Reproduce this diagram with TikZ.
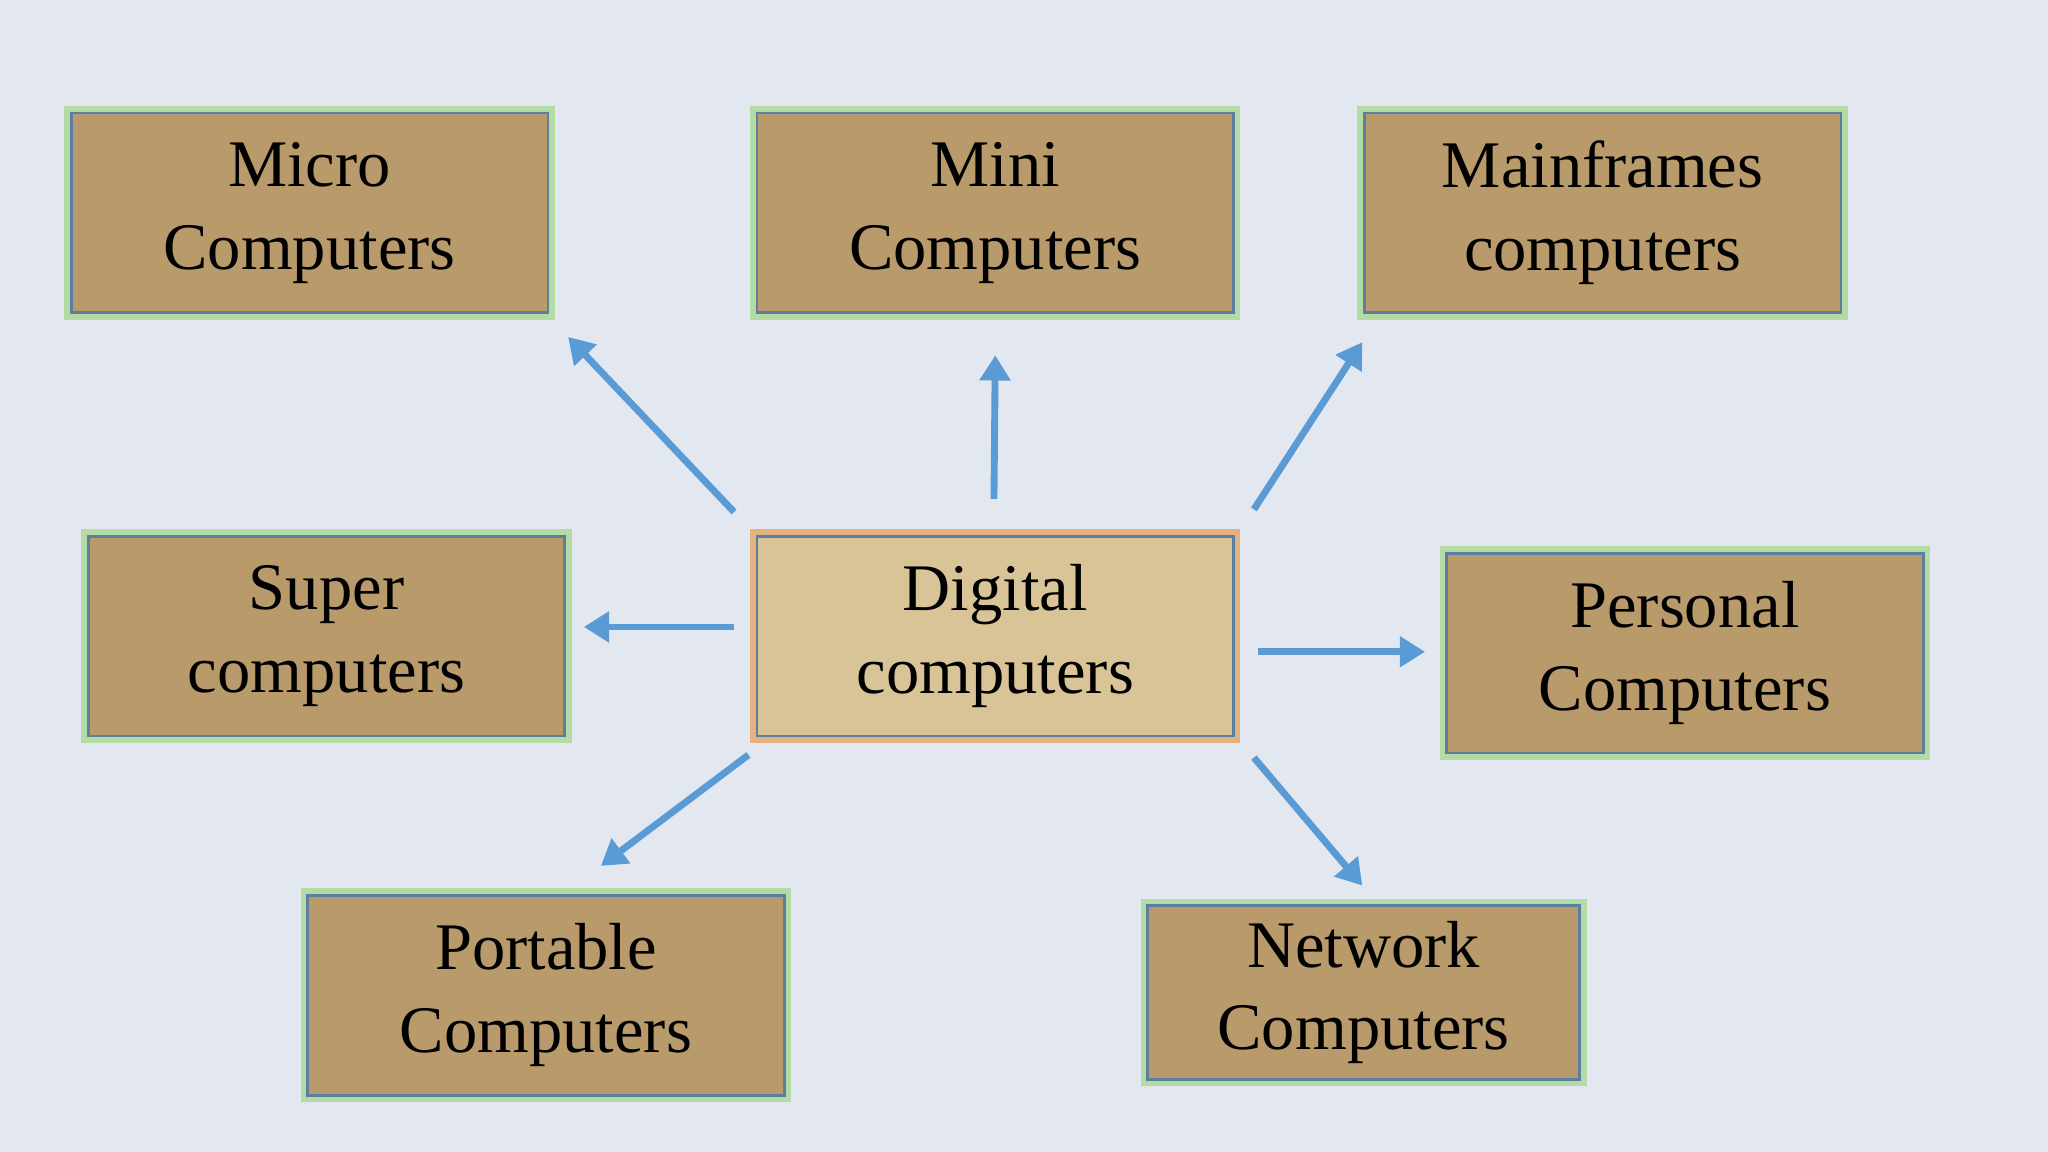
\documentclass[tikz,border=0pt]{standalone}
\usepackage{fontspec}
\setmainfont{Liberation Serif}
\usetikzlibrary{arrows.meta}
\definecolor{bg}{HTML}{E3E8F0}
\definecolor{tan}{HTML}{B99B6B}
\definecolor{lighttan}{HTML}{D8C496}
\definecolor{glowg}{HTML}{A8D890}
\definecolor{glowo}{HTML}{F0A878}
\definecolor{edge}{HTML}{5A7FA0}
\definecolor{arr}{HTML}{5B9BD5}
\tikzset{
 box/.style={draw=edge, line width=0.6pt, fill=tan, minimum width=7.3cm, minimum height=3.06cm,
   align=center, font=\fontsize{29}{36}\selectfont, text=black, inner sep=0pt,
   double=glowg, double distance=0pt,
   preaction={draw=glowg, line width=6pt, opacity=0.8}},
 cbox/.style={box, fill=lighttan, preaction={draw=glowo, line width=6pt, opacity=0.8}},
 arrow/.style={draw=arr, line width=3pt, -{Triangle[length=11pt,width=13pt]}}
}
\begin{document}
\begin{tikzpicture}[x=0.02cm,y=-0.02cm]
\fill[bg] (0,0) rectangle (1568,882);
\useasboundingbox (0,0) rectangle (1568,882);
\node[box] (micro) at (237,163) {Micro\\Computers};
\node[box] (mini) at (762,163) {Mini\\Computers};
\node[box] (main) at (1227,163) {Mainframes\\computers};
\node[box] (super) at (250,487) {Super\\computers};
\node[cbox] (dig) at (762,487) {Digital\\computers};
\node[box] (pers) at (1290,500) {Personal\\Computers};
\node[box] (port) at (418,762) {Portable\\Computers};
\node[box, minimum width=6.62cm, minimum height=2.66cm] (net) at (1044,760) {Network\\Computers};
\coordinate (a1s) at (562,392); \coordinate (a1e) at (435,258);
\coordinate (a2s) at (761,382); \coordinate (a2e) at (762,272);
\coordinate (a3s) at (960,390); \coordinate (a3e) at (1043,262);
\coordinate (a4s) at (562,480); \coordinate (a4e) at (447,480);
\coordinate (a5s) at (963,499); \coordinate (a5e) at (1091,499);
\coordinate (a6s) at (573,578); \coordinate (a6e) at (460,663);
\coordinate (a7s) at (960,580); \coordinate (a7e) at (1043,678);
\draw[arrow] (a1s) -- (a1e);
\draw[arrow] (a2s) -- (a2e);
\draw[arrow] (a3s) -- (a3e);
\draw[arrow] (a4s) -- (a4e);
\draw[arrow] (a5s) -- (a5e);
\draw[arrow] (a6s) -- (a6e);
\draw[arrow] (a7s) -- (a7e);
\end{tikzpicture}
\end{document}
